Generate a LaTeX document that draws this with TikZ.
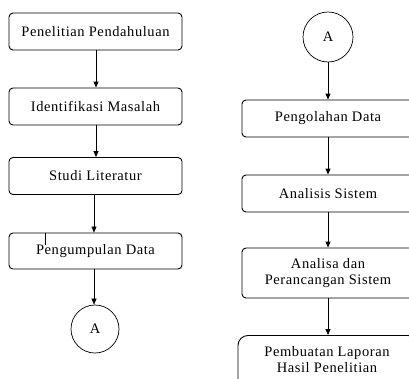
\documentclass[tikz,border=0pt]{standalone}
\usepackage{fontspec}
\setmainfont{Liberation Serif}[LetterSpace=4]
\usetikzlibrary{arrows.meta}
\begin{document}
\begin{tikzpicture}[x=1pt,y=-1pt,
  every node/.style={font=\fontsize{14.5}{16}\selectfont},
  lbox/.style={draw, line width=0.9pt, rounded corners=4pt, minimum width=173pt, minimum height=37pt, inner sep=0pt, align=center},
  rbox/.style={draw, line width=0.9pt, rounded corners=4pt, minimum width=172pt, inner sep=0pt, align=center},
  conn/.style={draw, circle, line width=0.7pt, inner sep=0pt},
  arr/.style={-{Triangle[length=6pt,width=5pt]}, line width=0.9pt}]
\useasboundingbox (0,0) rectangle (409,378);
\clip (0,0) rectangle (409,378);
\fill[white] (0,0) rectangle (409,378);
% left column
\node[lbox] (b1) at (95.5,31.5) {Penelitian Pendahuluan};
\node[lbox] (b2) at (95.5,106.5) {Identifikasi Masalah};
\node[lbox] (b3) at (95.5,176) {Studi Literatur};
\node[lbox, minimum height=36pt] (b4) at (95.5,251) {Pengumpulan Data};
\node[conn, minimum size=48pt] (ca) at (95,329) {A};
\draw[line width=0.7pt] (45,233) -- (45,245);
\draw[arr] (b1.south -| 96,0) -- (b2.north -| 96,0);
\draw[arr] (b2.south -| 96,0) -- (b3.north -| 96,0);
\draw[arr, line width=0.6pt] (b3.south -| 94,0) -- (b4.north -| 94,0);
\draw[arr, line width=0.6pt] (b4.south -| 94,0) -- (ca.north -| 94,0);
% right column
\node[conn, minimum size=50pt] (cb) at (328,37) {A};
\node[rbox, minimum height=37pt] (r1) at (328,118.5) {Pengolahan Data};
\node[rbox, minimum height=37pt] (r2) at (328,193.5) {Analisis Sistem};
\node[rbox, minimum height=50pt] (r3) at (328,273) {Analisa dan\\Perancangan Sistem};
\node[draw, line width=0.9pt, rounded corners=10pt, minimum width=180pt, minimum height=60pt, inner sep=0pt, align=center, anchor=north] (r4) at (328,335) {};
\node[align=center, anchor=north] (t4) at (327,343) {Pembuatan Laporan\\Hasil Penelitian};
\draw[arr] (cb) -- (r1);
\draw[arr] (r1) -- (r2);
\draw[arr] (r2) -- (r3);
\draw[arr] (r3) -- (r4);
\end{tikzpicture}
\end{document}
